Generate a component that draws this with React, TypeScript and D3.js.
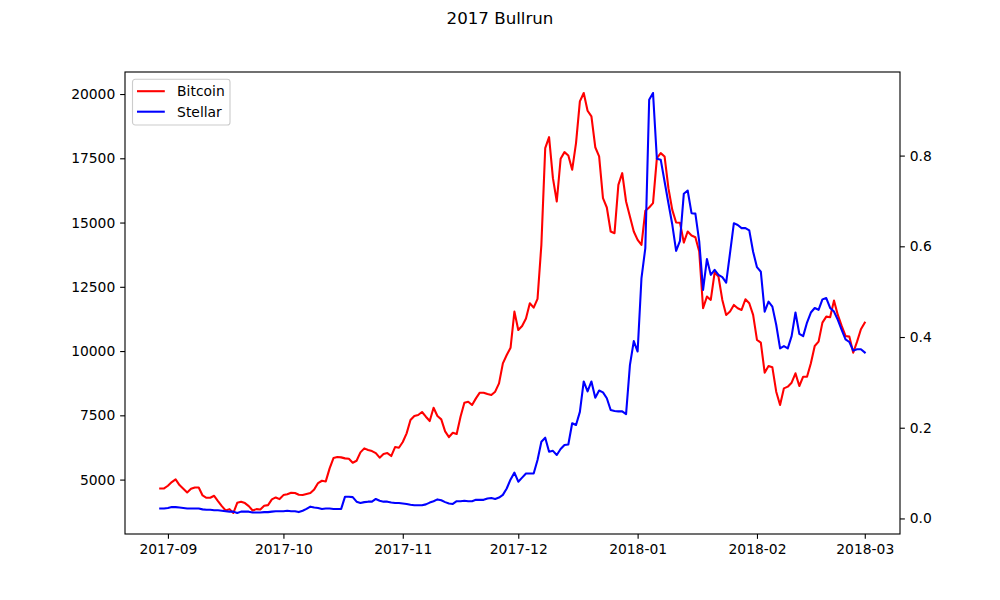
import React, { useEffect, useRef } from 'react';
import * as d3 from 'd3';

// daily closes, starting 2017-08-30
const startDate = new Date(Date.UTC(2017, 7, 30));

const bitcoin = [
  4656, 4656, 4760, 4902, 5006, 4786, 4643, 4500, 4643, 4695,
  4695, 4383, 4292, 4292, 4370, 4163, 3968, 3799, 3851, 3700,
  4098, 4137, 4085, 3968, 3799, 3851, 3838, 3981, 4007, 4228,
  4306, 4241, 4396, 4430, 4490, 4480, 4410, 4397, 4436, 4475,
  4618, 4864, 4955, 4929, 5435, 5838, 5877, 5864, 5825, 5812,
  5656, 5734, 6058, 6214, 6149, 6110, 6032, 5851, 5993, 6032,
  5916, 6266, 6240, 6461, 6798, 7317, 7473, 7512, 7628, 7447,
  7278, 7797, 7473, 7343, 6875, 6655, 6824, 6772, 7447, 7992,
  8031, 7901, 8160, 8381, 8381, 8329, 8290, 8420, 8745, 9523,
  9848, 10133, 11535, 10821, 10977, 11270, 11860, 11691, 12029, 14132,
  17896, 18324, 16728, 15819, 17480, 17740, 17610, 17052, 18090, 19713,
  20040, 19350, 19129, 17930, 17571, 15949, 15585, 14651, 14586, 16468,
  16922, 15819, 15235, 14651, 14326, 14132, 15456, 15585, 15754, 17506,
  17701, 17571, 16338, 15494, 15000, 14990, 14222, 14651, 14495, 14430,
  13872, 11665, 12119, 11990, 13054, 12898, 11990, 11406, 11536, 11795,
  11665, 11600, 12016, 11860, 11406, 10432, 10328, 9160, 9419, 9368,
  8420, 7901, 8550, 8615, 8771, 9134, 8641, 9004, 9004, 9523,
  10198, 10367, 11107, 11340, 11314, 11963, 11405, 10977, 10588, 10562,
  9939, 10367, 10847, 11107,
];

const stellar = [
  0.022, 0.022, 0.023, 0.025, 0.025, 0.024, 0.023, 0.022, 0.022, 0.022,
  0.022, 0.020, 0.019, 0.019, 0.018, 0.018, 0.017, 0.016, 0.015, 0.015,
  0.012, 0.015, 0.015, 0.015, 0.013, 0.013, 0.013, 0.014, 0.014, 0.015,
  0.016, 0.016, 0.016, 0.017, 0.016, 0.016, 0.014, 0.017, 0.021, 0.026,
  0.024, 0.023, 0.021, 0.022, 0.022, 0.021, 0.021, 0.021, 0.048, 0.048,
  0.047, 0.037, 0.034, 0.036, 0.037, 0.037, 0.043, 0.039, 0.037, 0.037,
  0.035, 0.034, 0.034, 0.033, 0.032, 0.030, 0.029, 0.029, 0.029, 0.031,
  0.035, 0.038, 0.042, 0.040, 0.036, 0.033, 0.032, 0.038, 0.038, 0.039,
  0.038, 0.038, 0.041, 0.041, 0.041, 0.044, 0.045, 0.043, 0.046, 0.052,
  0.066, 0.086, 0.101, 0.081, 0.090, 0.099, 0.099, 0.099, 0.129, 0.169,
  0.178, 0.147, 0.149, 0.140, 0.153, 0.162, 0.163, 0.210, 0.206, 0.235,
  0.302, 0.280, 0.302, 0.266, 0.282, 0.278, 0.265, 0.239, 0.237, 0.236,
  0.236, 0.230, 0.338, 0.391, 0.368, 0.530, 0.596, 0.923, 0.938, 0.793,
  0.791, 0.743, 0.695, 0.648, 0.590, 0.612, 0.716, 0.723, 0.673, 0.672,
  0.611, 0.504, 0.572, 0.537, 0.548, 0.537, 0.532, 0.520, 0.585, 0.651,
  0.647, 0.640, 0.640, 0.635, 0.588, 0.554, 0.544, 0.456, 0.478, 0.467,
  0.427, 0.375, 0.380, 0.375, 0.402, 0.454, 0.407, 0.402, 0.432, 0.454,
  0.464, 0.460, 0.483, 0.486, 0.464, 0.456, 0.438, 0.416, 0.395, 0.389,
  0.370, 0.373, 0.373, 0.366,
];

const bitcoinTicks = [5000, 7500, 10000, 12500, 15000, 17500, 20000];
const stellarTicks = [0.0, 0.2, 0.4, 0.6, 0.8];
const monthTicks = ['2017-09', '2017-10', '2017-11', '2017-12', '2018-01', '2018-02', '2018-03'];
const seriesNames = ['Bitcoin', 'Stellar'];
const seriesColors = ['#ff0000', '#0000ff'];

const WIDTH = 1000;
const HEIGHT = 600;
const FONT = '"DejaVu Sans", sans-serif';
const TICK_FS = 13.89; // 10pt at 100dpi
const TICK_LEN = 4.86;

// matplotlib-style 5% padding around the data range
const padded = (lo: number, hi: number): [number, number] => {
  const r = hi - lo;
  return [lo - r * 0.05, hi + r * 0.05];
};

const App: React.FC = () => {
  const svgRef = useRef<SVGSVGElement>(null);

  useEffect(() => {
    if (!svgRef.current) return;
    const svg = d3.select(svgRef.current);
    svg.selectAll('*').remove();

    const margin = { left: 125, right: 100, top: 72, bottom: 66 };
    const innerW = WIDTH - margin.left - margin.right;
    const innerH = HEIGHT - margin.top - margin.bottom;

    const dates = bitcoin.map((_, i) => d3.utcDay.offset(startDate, i));
    const t0 = +dates[0];
    const t1 = +dates[dates.length - 1];
    const [xa, xb] = padded(t0, t1);

    const x = d3.scaleUtc().domain([new Date(xa), new Date(xb)]).range([0, innerW]);
    const yLeft = d3.scaleLinear()
      .domain(padded(d3.min(bitcoin)!, d3.max(bitcoin)!))
      .range([innerH, 0]);
    const yRight = d3.scaleLinear()
      .domain(padded(d3.min(stellar)!, d3.max(stellar)!))
      .range([innerH, 0]);

    svg.append('rect').attr('width', WIDTH).attr('height', HEIGHT).attr('fill', '#ffffff');

    // title
    svg.append('text')
      .attr('x', WIDTH / 2)
      .attr('y', 24)
      .attr('text-anchor', 'middle')
      .attr('font-family', FONT)
      .attr('font-size', 16.67)
      .attr('fill', '#000')
      .text('2017 Bullrun');

    const g = svg.append('g').attr('transform', `translate(${margin.left},${margin.top})`);

    // lines
    const btcLine = d3.line<number>()
      .x((_, i) => x(dates[i]))
      .y(d => yLeft(d));
    const xlmLine = d3.line<number>()
      .x((_, i) => x(dates[i]))
      .y(d => yRight(d));

    g.append('path')
      .datum(bitcoin)
      .attr('fill', 'none')
      .attr('stroke', seriesColors[0])
      .attr('stroke-width', 2.08)
      .attr('stroke-linejoin', 'round')
      .attr('stroke-linecap', 'square')
      .attr('d', btcLine);

    g.append('path')
      .datum(stellar)
      .attr('fill', 'none')
      .attr('stroke', seriesColors[1])
      .attr('stroke-width', 2.08)
      .attr('stroke-linejoin', 'round')
      .attr('stroke-linecap', 'square')
      .attr('d', xlmLine);

    // axes
    const styleAxis = (sel: d3.Selection<SVGGElement, unknown, null, undefined>) => {
      sel.select('.domain').remove();
      sel.selectAll('line').attr('stroke', '#000').attr('stroke-width', 1.11);
      sel.selectAll('text').attr('font-family', FONT).attr('font-size', TICK_FS).attr('fill', '#000');
    };

    const monthDates = monthTicks.map(m => d3.utcParse('%Y-%m')(m)!);

    g.append('g')
      .attr('transform', `translate(0,${innerH})`)
      .call(d3.axisBottom(x)
        .tickValues(monthDates)
        .tickFormat(d => d3.utcFormat('%Y-%m')(d as Date))
        .tickSize(TICK_LEN)
        .tickPadding(4.86))
      .call(styleAxis);

    g.append('g')
      .call(d3.axisLeft(yLeft)
        .tickValues(bitcoinTicks)
        .tickFormat(d => String(d))
        .tickSize(TICK_LEN)
        .tickPadding(4.86))
      .call(styleAxis);

    g.append('g')
      .attr('transform', `translate(${innerW},0)`)
      .call(d3.axisRight(yRight)
        .tickValues(stellarTicks)
        .tickFormat(d3.format('.1f'))
        .tickSize(TICK_LEN)
        .tickPadding(4.86))
      .call(styleAxis);

    // frame
    g.append('rect')
      .attr('width', innerW)
      .attr('height', innerH)
      .attr('fill', 'none')
      .attr('stroke', '#000')
      .attr('stroke-width', 1.11);

    // legend
    const lg = g.append('g').attr('transform', 'translate(7.5,7.2)');
    lg.append('rect')
      .attr('width', 97.5)
      .attr('height', 45.8)
      .attr('rx', 2.8)
      .attr('fill', '#ffffff')
      .attr('fill-opacity', 0.8)
      .attr('stroke', '#cccccc')
      .attr('stroke-width', 1.11);

    seriesNames.forEach((name, i) => {
      const cy = 12 + i * 20.5;
      lg.append('line')
        .attr('x1', 4.5)
        .attr('x2', 32.3)
        .attr('y1', cy)
        .attr('y2', cy)
        .attr('stroke', seriesColors[i])
        .attr('stroke-width', 2.08);
      lg.append('text')
        .attr('x', 44.6)
        .attr('y', cy + 5)
        .attr('font-family', FONT)
        .attr('font-size', TICK_FS)
        .attr('fill', '#000')
        .text(name);
    });
  }, []);

  return (
    <div style={{ position: 'absolute', left: 0, top: 0 }}>
      <svg ref={svgRef} width={WIDTH} height={HEIGHT} style={{ display: 'block' }} />
    </div>
  );
};

export default App;
